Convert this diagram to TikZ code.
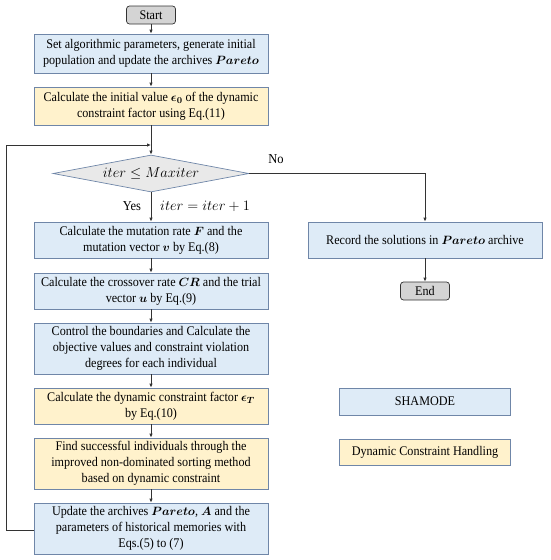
\documentclass[tikz,border=0pt]{standalone}
\usepackage{amsmath}
\usepackage{fontspec}
\setmainfont{Liberation Serif}[FakeStretch=0.92]
\usetikzlibrary{arrows.meta,shapes.geometric,shadows}
\definecolor{bluefill}{HTML}{DEEBF7}
\definecolor{yellowfill}{HTML}{FFF2CC}
\definecolor{boxborder}{HTML}{6F86A8}
\definecolor{grayfill}{HTML}{D4D4D4}
\definecolor{diamfill}{HTML}{E9E9E9}
\definecolor{linecol}{HTML}{333333}
\tikzset{
  basebox/.style={rectangle, draw=boxborder, line width=0.7pt, align=center,
    inner sep=0pt, minimum width=234pt,
    font=\fontsize{13.2}{15.8}\selectfont,
    drop shadow={shadow xshift=0.8pt, shadow yshift=-0.8pt, opacity=0.35, fill=gray}},
  bluebox/.style={basebox, fill=bluefill},
  yellowbox/.style={basebox, fill=yellowfill},
  terminal/.style={rectangle, rounded corners=3pt, draw=linecol, line width=0.7pt,
    fill=grayfill, minimum width=49pt, minimum height=18pt, inner sep=0pt,
    font=\fontsize{13.2}{15}\selectfont},
  decision/.style={diamond, draw=boxborder, line width=0.7pt, fill=diamfill,
    minimum width=196pt, minimum height=37pt, inner sep=0pt, shape aspect=5.3,
    font=\fontsize{14.2}{16}\selectfont},
  conn/.style={draw=linecol, line width=0.8pt, -{Latex[length=4pt,width=3.5pt]}},
  lbl/.style={font=\fontsize{13.6}{15}\selectfont, inner sep=0pt}
}
\begin{document}
\begin{tikzpicture}[x=1pt,y=-1pt]
\useasboundingbox (0,0) rectangle (550,560);
\node[terminal] (start) at (151,15) {Start};
\node[bluebox, minimum height=39pt] (b1) at (151,53.5) {Set algorithmic parameters, generate initial\\population and update the archives $\boldsymbol{Pareto}$};
\node[yellowbox, minimum height=38pt] (b2) at (151,106) {Calculate the initial value $\boldsymbol{\epsilon}_{\boldsymbol{0}}$ of the dynamic\\constraint factor using Eq.(11)};
\node[decision] (dec) at (151,173.5) {$iter \leq Maxiter$};
\node[bluebox, minimum height=36pt] (b3) at (151,240) {Calculate the mutation rate $\boldsymbol{F}$ and the\\mutation vector $\boldsymbol{v}$ by Eq.(8)};
\node[bluebox, minimum height=36pt] (b4) at (151,291) {Calculate the crossover rate $\boldsymbol{CR}$ and the trial\\vector $\boldsymbol{u}$ by Eq.(9)};
\node[bluebox, minimum height=51pt] (b5) at (151,348.5) {Control the boundaries and Calculate the\\objective values and constraint violation\\degrees for each individual};
\node[yellowbox, minimum height=36pt] (b6) at (151,406) {Calculate the dynamic constraint factor $\boldsymbol{\epsilon}_{\boldsymbol{T}}$\\by Eq.(10)};
\node[yellowbox, minimum height=51pt] (b7) at (151,463.5) {Find successful individuals through the\\improved non-dominated sorting method\\based on dynamic constraint};
\node[bluebox, minimum height=51pt] (b8) at (151,528.5) {Update the archives $\boldsymbol{Pareto}$, $\boldsymbol{A}$ and the\\parameters of historical memories with\\Eqs.(5) to (7)};
\node[bluebox, minimum height=36pt] (rec) at (425,240) {Record the solutions in $\boldsymbol{Pareto}$ archive};
\node[terminal] (end) at (425,291) {End};
\node[bluebox, minimum width=171pt, minimum height=27pt] (leg1) at (425,401.5) {SHAMODE};
\node[yellowbox, minimum width=171pt, minimum height=26pt] (leg2) at (425,452) {Dynamic Constraint Handling};
\node[lbl] (yes) at (132,206) {Yes};
\node[lbl, anchor=west] (inc) at (160,206) {$iter = iter + 1$};
\node[lbl] (no) at (276,159) {No};
\coordinate (loopL) at (6,530);
\coordinate (loopT) at (6,145);
\coordinate (join) at (151,145);
\coordinate (noR) at (425,173.5);
\draw[conn] (start) -- (b1);
\draw[conn] (b1) -- (b2);
\draw[conn] (b2) -- (dec.north);
\draw[conn] (dec.south) -- (b3);
\draw[conn] (b3) -- (b4);
\draw[conn] (b4) -- (b5);
\draw[conn] (b5) -- (b6);
\draw[conn] (b6) -- (b7);
\draw[conn] (b7) -- (b8);
\draw[conn] (b8.west |- loopL) -- (loopL) -- (loopT) -- (join);
\draw[conn] (dec.east) -- (noR) -- (rec.north);
\draw[conn] (rec) -- (end);
\end{tikzpicture}
\end{document}
